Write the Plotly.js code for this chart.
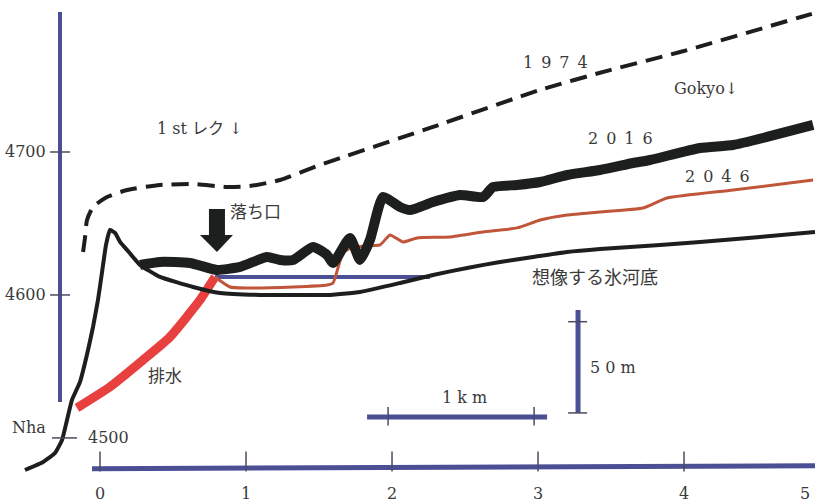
<!DOCTYPE html>
<html>
<head>
<meta charset="utf-8">
<script src="https://cdn.plot.ly/plotly-3.0.1.min.js"></script>
<style>html,body{margin:0;padding:0;background:#fff;}#chart{width:815px;height:504px;}</style>
</head>
<body>
<div id="chart"></div>
<script>
// ---- axis ticks ----
const xTickVals = [0, 1, 2, 3, 4, 5];
const xTickText = ['0', '1', '2', '3', '4', '5'];
const yTickVals = [4500, 4600, 4700];
const yTickText = ['4500', '4600', '4700'];

// ---- 1974 glacier surface (dashed) ----
const x1974 = [-0.116, -0.103, -0.089, -0.048, 0.048, 0.185, 0.411, 0.637, 0.870, 1.027, 1.233, 1.507, 2.260, 3.014, 3.493, 3.973, 4.801, 4.897];
const y1974 = [4630.1, 4639.9, 4652.4, 4661.5, 4668.5, 4673.4, 4676.9, 4677.6, 4675.5, 4676.2, 4680.4, 4690.9, 4716.8, 4743.4, 4757.3, 4769.9, 4794.4, 4797.2];

// ---- 2016 surface (thick black) ----
const x2016 = [0.274, 0.411, 0.616, 0.801, 0.959, 1.144, 1.233, 1.322, 1.459, 1.555, 1.596, 1.712, 1.781, 1.849, 1.938, 2.055, 2.123, 2.281, 2.466, 2.623, 2.692, 2.856, 3.014, 3.199, 3.425, 3.651, 3.767, 4.110, 4.336, 4.568, 4.884];
const y2016 = [4621.0, 4623.1, 4622.4, 4617.5, 4619.6, 4626.6, 4624.5, 4624.5, 4633.6, 4628.0, 4622.4, 4639.9, 4624.5, 4638.5, 4668.5, 4661.5, 4659.4, 4665.0, 4669.9, 4668.5, 4675.5, 4676.9, 4679.0, 4683.9, 4687.4, 4692.3, 4694.4, 4702.8, 4704.9, 4710.5, 4718.9];

// ---- 2046 surface (brown-red) ----
const x2046 = [0.788, 0.890, 1.007, 1.322, 1.555, 1.596, 1.664, 1.733, 1.918, 1.986, 2.075, 2.171, 2.397, 2.623, 2.856, 3.014, 3.199, 3.425, 3.719, 3.884, 4.336, 4.884];
const y2046 = [4612.6, 4605.6, 4604.9, 4605.6, 4607.0, 4608.4, 4629.4, 4633.6, 4635.0, 4642.0, 4637.1, 4639.9, 4640.6, 4644.1, 4646.9, 4652.4, 4655.9, 4658.0, 4660.8, 4667.8, 4673.4, 4680.4];

// ---- imagined glacier bed (black) ----
const xBed = [-0.514, -0.390, -0.308, -0.260, -0.226, -0.192, -0.137, -0.082, -0.048, -0.014, 0.014, 0.041, 0.068, 0.103, 0.137, 0.185, 0.274, 0.411, 0.637, 0.822, 1.096, 1.370, 1.555, 1.781, 2.055, 2.281, 2.514, 2.740, 2.966, 3.199, 3.425, 3.836, 4.110, 4.521, 4.897];
const yBed = [4477.6, 4483.2, 4489.5, 4498.6, 4512.6, 4526.6, 4539.2, 4561.5, 4577.6, 4596.5, 4616.1, 4635.0, 4645.5, 4643.4, 4637.1, 4631.5, 4621.0, 4612.6, 4605.6, 4601.4, 4600.0, 4600.0, 4600.0, 4602.1, 4608.4, 4614.0, 4618.9, 4623.1, 4626.6, 4630.1, 4632.2, 4635.0, 4637.1, 4640.6, 4644.1];

// ---- drainage (red) ----
const xDrain = [-0.158, 0.068, 0.295, 0.479, 0.685, 0.788];
const yDrain = [4521.0, 4535.7, 4554.5, 4570.6, 4596.5, 4612.6];

// ---- outlet level (blue) ----
const xOutlet = [0.788, 2.260];
const yOutlet = [4612.6, 4612.6];

// ---- scale bars ----
const kmBarX = [1.829, 3.062];
const kmBarY = 4514.7;
const kmTicks = [1.973, 2.973];
const mBarX = 3.274;
const mBarY = [4517.5, 4589.5];
const mTicks = [4517.5, 4581.3];

const BLUE = '#4b4f93';
const TXT = '#3a3a3a';
const SERIF = 'DejaVu Serif, Liberation Serif, Noto Sans CJK JP, serif';
const GOTH = 'Noto Sans CJK JP, Noto Sans, sans-serif';
const X_MAX = 4.897;

const traces = [
  {x: xDrain, y: yDrain, mode: 'lines', line: {color: '#e8403f', width: 9, shape: 'spline', smoothing: 0.5}},
  {x: xOutlet, y: yOutlet, mode: 'lines', line: {color: BLUE, width: 4}},
  {x: xBed, y: yBed, mode: 'lines', line: {color: '#1c1f1e', width: 4, shape: 'spline', smoothing: 0.4}},
  {x: x2046, y: y2046, mode: 'lines', line: {color: '#c0553a', width: 3, shape: 'spline', smoothing: 0.5}},
  {x: x2016, y: y2016, mode: 'lines', line: {color: '#1c1f1e', width: 10, shape: 'spline', smoothing: 0.5}},
  {x: x1974, y: y1974, mode: 'lines', line: {color: '#1c1f1e', width: 4, dash: '17px,9px', shape: 'spline', smoothing: 0.6}}
];

const shapes = [];
// y axis line
shapes.push({type: 'line', xref: 'x', yref: 'y', x0: -0.274, x1: -0.274, y0: 4525.2, y1: 4797.9, line: {color: BLUE, width: 4}});
yTickVals.forEach(v => {
  const long = v === 4500;
  shapes.push({type: 'line', xref: 'x', yref: 'y', x0: long ? -0.329 : -0.342, x1: long ? -0.158 : -0.205, y0: v, y1: v, line: {color: '#4a4a60', width: 1.5}});
});
// x axis line
shapes.push({type: 'line', xref: 'x', yref: 'y', x0: -0.055, x1: X_MAX, y0: 4478.5, y1: 4480.5, line: {color: BLUE, width: 5}});
xTickVals.forEach(v => {
  shapes.push({type: 'line', xref: 'x', yref: 'y', x0: v, x1: v, y0: 4476.5, y1: 4490.5, line: {color: '#4a4a60', width: 1.5}});
});
// 1 km bar
shapes.push({type: 'line', xref: 'x', yref: 'y', x0: kmBarX[0], x1: kmBarX[1], y0: kmBarY, y1: kmBarY, line: {color: BLUE, width: 5}});
kmTicks.forEach(v => shapes.push({type: 'line', xref: 'x', yref: 'y', x0: v, x1: v, y0: kmBarY - 6, y1: kmBarY + 7, line: {color: '#4a4a60', width: 1.5}}));
// 50 m bar
shapes.push({type: 'line', xref: 'x', yref: 'y', x0: mBarX, x1: mBarX, y0: mBarY[0], y1: mBarY[1], line: {color: BLUE, width: 5}});
mTicks.forEach(v => shapes.push({type: 'line', xref: 'x', yref: 'y', x0: mBarX - 0.068, x1: mBarX + 0.062, y0: v, y1: v, line: {color: '#4a4a60', width: 1.5}}));
// block arrow pointing to the outlet
shapes.push({type: 'path', xref: 'x', yref: 'y', xsizemode: 'pixel', ysizemode: 'pixel', xanchor: 0.801, yanchor: 4630.1,
  path: 'M 0 0 L -17 17 L -8 17 L -8 43 L 8 43 L 8 17 L 16 17 Z', fillcolor: '#1c1f1e', line: {width: 0}});

const ann = [];
function txt(text, x, y, size, family, opts) {
  ann.push(Object.assign({text: text, x: x, y: y, xref: 'x', yref: 'y', showarrow: false, font: {size: size, family: family, color: TXT}}, opts || {}));
}
// y tick labels
yTickVals.forEach((v, i) => {
  if (v === 4500) txt(yTickText[i], -0.096, v, 16, SERIF, {xanchor: 'left'});
  else txt(yTickText[i], -0.356, v, 16, SERIF, {xanchor: 'right'});
});
// x tick labels (last one pulled inside the visible edge, as in the scan)
xTickVals.forEach((v, i) => {
  if (v > X_MAX) txt(xTickText[i], X_MAX - 0.02, 4461, 16, SERIF, {xanchor: 'right'});
  else txt(xTickText[i], v, 4461, 16, SERIF);
});
const SP = '\u2002';
txt('Nha', -0.486, 4507.0, 16, SERIF);
txt(['1', '9', '7', '4'].join(SP), 3.123, 4762.9, 16, SERIF);
txt('Gokyo\u2193', 4.151, 4744.1, 16, SERIF);
txt('1 st \u30ec\u30af \u2193', 0.685, 4716.1, 16, SERIF);
txt(['2', '0', '1', '6'].join(SP), 3.562, 4709.1, 16, SERIF);
txt(['2', '0', '4', '6'].join(SP), 4.226, 4683.2, 16, SERIF);
txt('落ち口', 1.062, 4659.4, 17, GOTH);
txt('想像する氷河底', 2.945, 4613.3, 18, GOTH, {xanchor: 'left'});
txt('排水', 0.445, 4544.1, 17, GOTH);
txt(['1', 'k', 'm'].join(' '), 2.493, 4528.0, 16, SERIF);
txt(['5', '0', 'm'].join(' '), 3.514, 4549.0, 16, SERIF);

const layout = {
  width: 815, height: 504,
  margin: {l: 0, r: 0, t: 0, b: 0},
  paper_bgcolor: '#ffffff', plot_bgcolor: '#ffffff',
  showlegend: false,
  xaxis: {range: [-0.685, X_MAX], visible: false, fixedrange: true},
  yaxis: {range: [4453.8, 4806.3], visible: false, fixedrange: true},
  shapes: shapes,
  annotations: ann
};
Plotly.newPlot('chart', traces, layout, {staticPlot: true, displayModeBar: false});
</script>
</body>
</html>
